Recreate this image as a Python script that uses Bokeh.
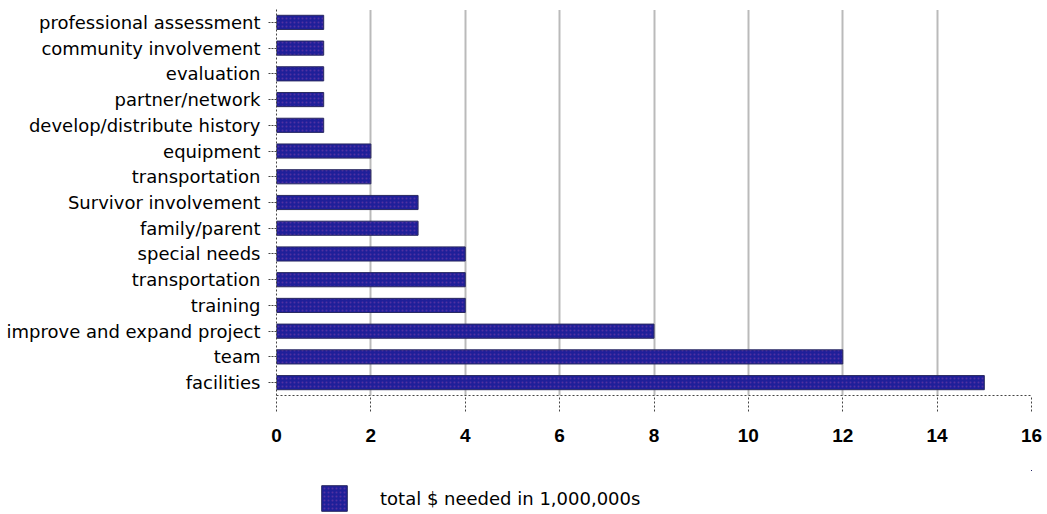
from bokeh.plotting import figure
from bokeh.layouts import column
from bokeh.models import (ColumnDataSource, Range1d, FixedTicker, Legend, LegendItem)
from bokeh.embed import file_html
from bokeh.resources import INLINE

# Funding needs by area, listed top to bottom
categories = [
    "professional assessment",
    "community involvement",
    "evaluation",
    "partner/network",
    "develop/distribute history",
    "equipment",
    "transportation",
    "Survivor involvement",
    "family/parent",
    "special needs",
    "transportation",
    "training",
    "improve and expand project",
    "team",
    "facilities",
]
needed_millions = [1, 1, 1, 1, 1, 2, 2, 3, 3, 4, 4, 4, 8, 12, 15]
x_ticks = [0, 2, 4, 6, 8, 10, 12, 14, 16]
series_label = "total $ needed in 1,000,000s"

n = len(categories)
# "transportation" appears twice, so rows sit on numeric positions with label overrides
rows = [n - i for i in range(n)]
source = ColumnDataSource(data=dict(row=rows, value=needed_millions, name=categories))

bar_style = dict(
    fill_color="#1f1f99", line_color="#2a2a60", line_width=1,
    hatch_pattern="dot", hatch_color="#7a3fa8", hatch_scale=4,
    hatch_weight=1, hatch_alpha=0.55,
)

p = figure(
    width=1047, height=470,
    frame_width=755, frame_height=386,
    min_border_left=276, min_border_right=16,
    min_border_top=9, min_border_bottom=75,
    x_range=Range1d(0, 16), y_range=Range1d(0.5, n + 0.5),
    output_backend="svg", toolbar_location=None,
)
p.outline_line_color = None
p.background_fill_color = "white"
p.border_fill_color = "white"

p.hbar(y="row", right="value", left=0, height=0.55, source=source, **bar_style)

# x axis
xa = p.xaxis[0]
xa.ticker = FixedTicker(ticks=x_ticks)
xa.axis_line_color = "#444444"
xa.axis_line_dash = "2 2"
xa.major_tick_line_color = "#444444"
xa.major_tick_line_dash = "2 2"
xa.major_tick_in = 0
xa.major_tick_out = 16
xa.minor_tick_line_color = None
xa.major_label_standoff = 17
xa.major_label_text_font = "Liberation Sans"
xa.major_label_text_font_style = "bold"
xa.major_label_text_font_size = "19px"
xa.major_label_text_color = "#000000"

# y axis
ya = p.yaxis[0]
ya.ticker = FixedTicker(ticks=rows)
ya.major_label_overrides = {r: c for r, c in zip(rows, categories)}
ya.axis_line_color = "#444444"
ya.axis_line_dash = "2 2"
ya.major_tick_line_color = "#444444"
ya.major_tick_line_dash = "2 1"
ya.major_tick_in = 0
ya.major_tick_out = 8
ya.minor_tick_line_color = None
ya.major_label_standoff = 8
ya.major_label_text_font = "DejaVu Sans"
ya.major_label_text_font_size = "18px"
ya.major_label_text_color = "#000000"

# vertical dotted grid only
p.xgrid.grid_line_color = "#777777"
p.xgrid.grid_line_dash = "1 1"
p.xgrid.grid_line_width = 2
p.ygrid.grid_line_color = None

# Legend strip underneath the chart; its ranges lie away from every bar,
# so only the key swatch and label are drawn in it
key = figure(
    width=1047, height=44, min_border=0,
    x_range=Range1d(-40, -24), y_range=Range1d(-2, -1),
    x_axis_type=None, y_axis_type=None,
    output_backend="svg", toolbar_location=None,
)
key.outline_line_color = None
key.grid.visible = False
key_bars = key.hbar(y="row", right="value", left=0, height=0.55, source=source, **bar_style)

legend = Legend(
    items=[LegendItem(label=series_label, renderers=[key_bars])],
    location=(42, 0),
    glyph_width=32, glyph_height=32, label_height=32,
    padding=0, margin=0, spacing=0, label_standoff=30,
    border_line_alpha=0, background_fill_alpha=0,
    label_text_font="DejaVu Sans", label_text_font_size="18px",
    label_text_color="#000000",
)
key.add_layout(legend)

layout = column(p, key, spacing=0)
open("out.html", "w").write(file_html(layout, INLINE))
